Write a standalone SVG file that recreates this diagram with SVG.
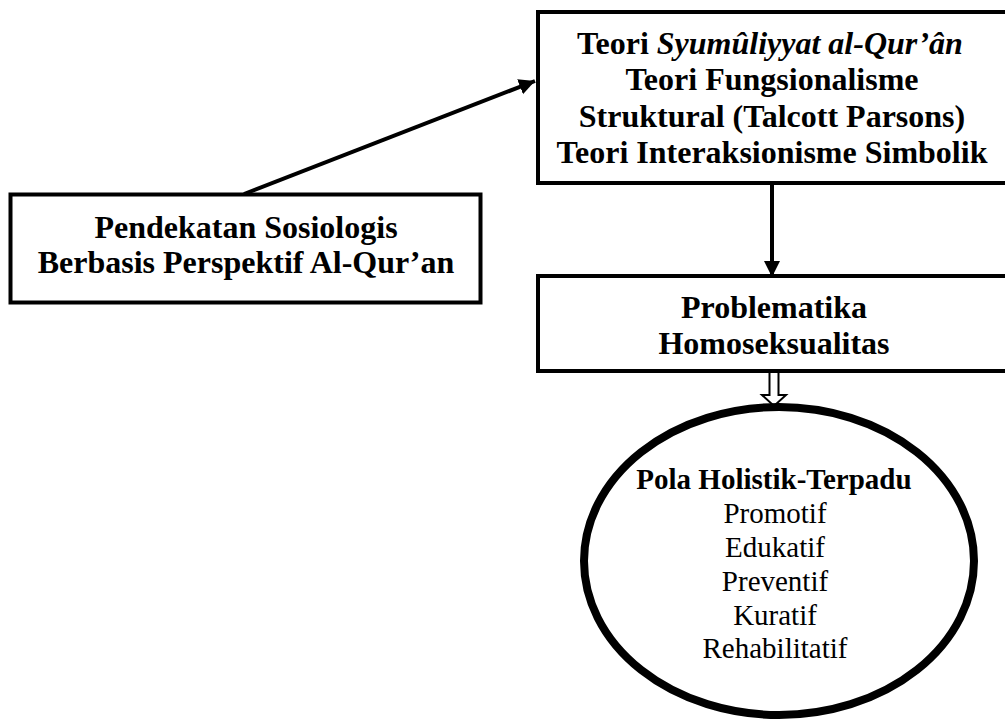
<svg xmlns="http://www.w3.org/2000/svg" width="1005" height="719" viewBox="0 0 1005 719">
<style>
.box{fill:#fff;stroke:#000;stroke-width:4}
.t{font-family:"Liberation Serif","Times New Roman",serif;fill:#000;text-anchor:middle}
.b{font-weight:bold;font-size:32px}
.r{font-size:29px}
.e{font-weight:bold;font-size:29px}
.line{stroke:#000;stroke-width:4;fill:none}
</style>
<defs>
<marker id="ah" markerUnits="userSpaceOnUse" markerWidth="18" markerHeight="18" refX="16" refY="8" orient="auto">
<path d="M0,0 L16,8 L0,16 Z" fill="#000"/>
</marker>
</defs>
<rect width="1005" height="719" fill="#fff"/>
<g id="connectors">
<line class="line" x1="244" y1="194" x2="535" y2="81" marker-end="url(#ah)"/>
<line class="line" x1="772" y1="185" x2="772" y2="277" marker-end="url(#ah)"/>
<path d="M769.5,373 L769.5,395 L762,395 L774,406 L786,395 L778.5,395 L778.5,373" fill="#fff" stroke="#000" stroke-width="2"/>
</g>
<g id="node-teori">
<rect class="box" x="538" y="12" width="480" height="171"/>
<text class="t b" x="770" y="53.5">Teori <tspan font-style="italic">Syumûliyyat al-Qur’ân</tspan></text>
<text class="t b" x="772" y="90">Teori Fungsionalisme</text>
<text class="t b" x="772" y="126.5">Struktural (Talcott Parsons)</text>
<text class="t b" x="772" y="163">Teori Interaksionisme Simbolik</text>
</g>
<g id="node-pendekatan">
<rect class="box" x="10.5" y="194.5" width="470" height="108" stroke-width="5"/>
<text class="t b" x="246" y="238">Pendekatan Sosiologis</text>
<text class="t b" x="246" y="273">Berbasis Perspektif Al-Qur’an</text>
</g>
<g id="node-problematika">
<rect class="box" x="538" y="276" width="480" height="95"/>
<text class="t b" x="774" y="318">Problematika</text>
<text class="t b" x="774" y="354">Homoseksualitas</text>
</g>
<g id="node-pola">
<ellipse cx="779" cy="561" rx="195" ry="154" fill="#fff" stroke="#000" stroke-width="8"/>
<text class="t e" x="774" y="489">Pola Holistik-Terpadu</text>
<text class="t r" x="775" y="523">Promotif</text>
<text class="t r" x="775" y="557">Edukatif</text>
<text class="t r" x="775" y="591">Preventif</text>
<text class="t r" x="775" y="625">Kuratif</text>
<text class="t r" x="775" y="658">Rehabilitatif</text>
</g>
</svg>
